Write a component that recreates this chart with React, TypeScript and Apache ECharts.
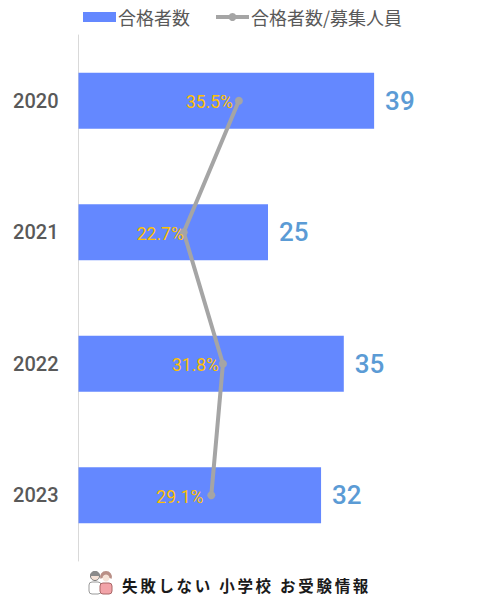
import React, { useEffect, useRef } from "react";
import * as echarts from "echarts";

const years = ["2020", "2021", "2022", "2023"];
const passers = [39, 25, 35, 32];
const ratios = [35.5, 22.7, 31.8, 29.1];
const barName = "合格者数";
const lineName = "合格者数/募集人員";
const footer = "失敗しない 小学校 お受験情報";
const font = "Roboto, 'Liberation Sans', sans-serif";
const cjk = "'Noto Sans CJK JP', sans-serif";

// how far each ratio label sits from its marker in the reference
const ratioLabelNudge = [1, 7, 3, -1];

export default function App() {
  const ref = useRef<HTMLDivElement>(null);
  useEffect(() => {
    const chart = echarts.init(ref.current!, undefined, { renderer: "svg" });
    chart.setOption({
      animation: false,
      backgroundColor: "#fff",
      textStyle: { fontFamily: font },
      legend: {
        left: 78,
        top: 3,
        itemWidth: 33,
        itemHeight: 10,
        itemGap: 24,
        data: [
          { name: barName, icon: "rect" },
          { name: lineName, lineStyle: { width: 4, color: "#A5A5A5" } },
        ],
        textStyle: { fontSize: 18, color: "#595959", padding: [0, 0, 0, -3], fontFamily: cjk },
      },
      grid: { left: 78.5, top: 35, width: 379, height: 526 },
      xAxis: [
        { type: "value", min: 0, max: 50, show: false },
        { type: "value", min: -1.7, max: 86.2, show: false },
      ],
      yAxis: {
        type: "category",
        inverse: true,
        data: years,
        axisLine: { show: true, lineStyle: { color: "#D9D9D9", width: 1 } },
        axisTick: { show: false },
        axisLabel: { fontSize: 20, fontWeight: 500, color: "#595959", margin: 20, lineHeight: 18, padding: [0, 0, 2, 0], fontFamily: font },
        splitLine: { show: false },
      },
      series: [
        {
          name: barName,
          type: "bar",
          xAxisIndex: 0,
          data: passers,
          barWidth: 56,
          itemStyle: { color: "#6488FF" },
          label: { show: true, position: "right", distance: 11, fontSize: 26, fontWeight: 500, color: "#5B9BD5", fontFamily: font },
        },
        {
          name: lineName,
          type: "line",
          xAxisIndex: 1,
          data: ratios.map((value, i) => ({ value, label: { offset: [ratioLabelNudge[i], 1.5] } })),
          symbol: "circle",
          symbolSize: 8,
          lineStyle: { color: "#A5A5A5", width: 4 },
          itemStyle: { color: "#A5A5A5" },
          z: 3,
          label: {
            show: true,
            position: "left",
            distance: 3,
            fontSize: 17.5,
            color: "#FFC000",
            fontFamily: font,
            formatter: (p: any) => p.value.toFixed(1) + "%",
          },
        },
      ],
      graphic: [
        {
          type: "group",
          children: [
            { type: "rect", shape: { x: 89, y: 582, width: 12, height: 12, r: 3 }, style: { fill: "#fff", stroke: "#999", lineWidth: 1 } },
            { type: "circle", shape: { cx: 95, cy: 576, r: 4.5 }, style: { fill: "#F6E3D8", stroke: "#777", lineWidth: 1 } },
            { type: "sector", shape: { cx: 95, cy: 576, r: 5, r0: 0, startAngle: Math.PI, endAngle: 2 * Math.PI }, style: { fill: "#8A8A8A" } },
            { type: "sector", shape: { cx: 106, cy: 577, r: 6, r0: 0, startAngle: Math.PI * 0.9, endAngle: Math.PI * 2.1 }, style: { fill: "#B98F86" } },
            { type: "rect", shape: { x: 100, y: 583, width: 12, height: 11, r: 3 }, style: { fill: "#F2A3A8", stroke: "#A66", lineWidth: 1 } },
            { type: "circle", shape: { cx: 106, cy: 578, r: 3.5 }, style: { fill: "#F6E3D8" } },
          ],
        },
        {
          type: "text",
          x: 122,
          y: 577,
          style: {
            text: footer,
            fontSize: 15.5,
            fontWeight: "bold",
            fill: "#1a1a1a",
            fontFamily: cjk,
          },
        },
      ],
    });
    ref.current!.querySelectorAll("text").forEach((t) => {
      if (t.textContent === footer) (t as SVGTextElement).style.letterSpacing = "2.7px";
    });
    return () => chart.dispose();
  }, []);
  return <div ref={ref} style={{ position: "absolute", left: 0, top: 0, width: 481, height: 598 }} />;
}
